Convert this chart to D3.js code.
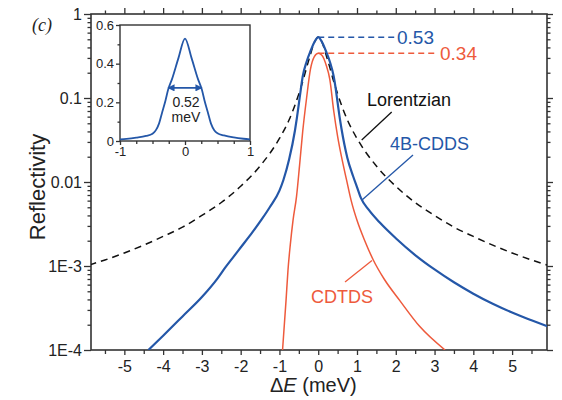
<!DOCTYPE html>
<html><head><meta charset="utf-8">
<script src="https://cdn.jsdelivr.net/npm/d3@7"></script>
<style>
body{margin:0;background:#fff;}
svg{display:block;font-family:"Liberation Sans",Arial,sans-serif;}
</style></head>
<body><svg id="c" width="562" height="400"></svg>
<script>
// ---- data ----
const blueE = [-4.38,-4.0,-3.5,-3.0,-2.6,-2.4,-2.2,-2.0,-1.7,-1.45,-1.25,-1.0,-0.9,-0.75,-0.6,-0.55,-0.5,-0.45,-0.4,-0.3,-0.2,-0.1,0,0.1,0.2,0.3,0.4,0.45,0.5,0.55,0.6,0.75,0.9,1.0,1.1,1.3,1.6,2.0,2.5,3.0,3.5,4.0,4.5,5.0,5.5,5.93];
const blueR = [1e-4,1.48e-4,2.51e-4,4.27e-4,7.08e-4,9.55e-4,1.26e-3,1.66e-3,2.51e-3,3.63e-3,5.0e-3,7.9e-3,0.0105,0.0186,0.041,0.058,0.085,0.126,0.18,0.27,0.36,0.46,0.53,0.46,0.36,0.27,0.18,0.13,0.088,0.06,0.043,0.0195,0.0117,8.7e-3,6.46e-3,4.68e-3,3.24e-3,2.14e-3,1.35e-3,9.1e-4,6.4e-4,4.68e-4,3.55e-4,2.79e-4,2.26e-4,1.9e-4];
const redE = [-0.92,-0.83,-0.78,-0.72,-0.65,-0.56,-0.48,-0.4,-0.3,-0.2,-0.1,0,0.1,0.2,0.3,0.4,0.5,0.6,0.73,0.85,1.0,1.2,1.42,1.7,2.1,2.62,3.27];
const redR = [1e-4,3.9e-4,8.9e-4,1.8e-3,3.5e-3,6.7e-3,0.016,0.04,0.1,0.22,0.31,0.34,0.32,0.25,0.165,0.07,0.035,0.02,0.0106,6e-3,3.5e-3,2e-3,1.18e-3,7e-4,3.9e-4,1.9e-4,1e-4];
const lorE = [-5.9,-5.5,-5,-4.5,-4,-3.5,-3,-2.5,-2,-1.5,-1,-0.75,-0.5,-0.4,-0.3,-0.2,-0.1,0,0.1,0.2,0.3,0.4,0.5,0.75,1,1.5,2,2.5,3,3.5,4,4.5,5,5.5,5.9];
const lorR = [1.03e-3,1.18e-3,1.43e-3,1.77e-3,2.25e-3,2.9e-3,4.0e-3,5.7e-3,8.9e-3,0.0155,0.033,0.055,0.112,0.157,0.23,0.33,0.46,0.53,0.46,0.33,0.23,0.157,0.112,0.055,0.033,0.0155,8.9e-3,5.7e-3,4.0e-3,2.9e-3,2.25e-3,1.77e-3,1.43e-3,1.18e-3,1.03e-3];
const insetE = [-1,-0.9,-0.75,-0.6,-0.5,-0.45,-0.4,-0.35,-0.3,-0.26,-0.2,-0.1,0,0.1,0.2,0.26,0.3,0.35,0.4,0.45,0.5,0.6,0.75,0.9,1];
const insetR = [0.0079,0.0105,0.017,0.0263,0.038,0.055,0.09,0.15,0.21,0.265,0.32,0.43,0.53,0.43,0.32,0.265,0.21,0.15,0.09,0.056,0.04,0.0288,0.0184,0.0117,0.0087];
const xTicks = [-5,-4,-3,-2,-1,0,1,2,3,4,5];
const xMinor = [-5.5,-4.5,-3.5,-2.5,-1.5,-0.5,0.5,1.5,2.5,3.5,4.5,5.5];
const yTicks = [1,0.1,0.01,1e-3,1e-4];
const yTickLabels = ["1","0.1","0.01","1E-3","1E-4"];
const insetXTicks = [-1,0,1];
const insetXMinor = [-0.75,-0.5,-0.25,0.25,0.5,0.75];
const insetYTicks = [0,0.2,0.4,0.6];
const insetYMinor = [0.1,0.3,0.5];
const peakBlue = 0.53, peakRed = 0.34, fwhm = 0.52;

const BLUE = "#2457a8", RED = "#ee5a3c", AX = "#333";
const svg = d3.select("#c");

const x = d3.scaleLinear().domain([-5.86, 5.9]).range([91, 547]);
const y = d3.scaleLog().domain([1e-4, 1]).range([350, 14]);

const yMinor = [];
[1e-4,1e-3,1e-2,1e-1].forEach(d => { for (let k = 2; k <= 9; k++) yMinor.push(d*k); });

function styleAxis(g){ g.select(".domain").remove(); g.selectAll("line").attr("stroke", AX).attr("stroke-width", 1.3); g.selectAll("text").attr("fill","#222"); }

// clip
svg.append("clipPath").attr("id","clip").append("rect").attr("x",91).attr("y",14).attr("width",456).attr("height",336);

// axes
svg.append("g").attr("transform","translate(91,0)")
  .call(d3.axisLeft(y).tickValues(yTicks).tickFormat((d,i)=>yTickLabels[i]).tickSize(7).tickPadding(2))
  .call(styleAxis).selectAll("text").attr("font-size",16);
svg.append("g").attr("transform","translate(91,0)")
  .call(d3.axisLeft(y).tickValues(yMinor).tickFormat("").tickSize(3.5)).call(styleAxis);
svg.append("g").attr("transform","translate(547,0)")
  .call(d3.axisRight(y).tickValues(yTicks).tickFormat("").tickSize(6)).call(styleAxis);
svg.append("g").attr("transform","translate(547,0)")
  .call(d3.axisRight(y).tickValues(yMinor).tickFormat("").tickSize(3.5)).call(styleAxis);
svg.append("g").attr("transform","translate(0,350)")
  .call(d3.axisBottom(x).tickValues(xTicks).tickFormat(d=>String(d)).tickSize(5).tickPadding(6))
  .call(styleAxis).selectAll("text").attr("font-size",16);
svg.append("g").attr("transform","translate(0,350)")
  .call(d3.axisBottom(x).tickValues(xMinor).tickFormat("").tickSize(4)).call(styleAxis);
svg.append("g").attr("transform","translate(0,14)")
  .call(d3.axisTop(x).tickValues(xTicks).tickFormat("").tickSize(6)).call(styleAxis);
svg.append("g").attr("transform","translate(0,14)")
  .call(d3.axisTop(x).tickValues(xMinor).tickFormat("").tickSize(3.5)).call(styleAxis);
svg.append("rect").attr("x",91).attr("y",14).attr("width",456).attr("height",336)
  .attr("fill","none").attr("stroke",AX).attr("stroke-width",1.6);

// curves
const line = d3.line().x(d=>x(d[0])).y(d=>y(d[1])).curve(d3.curveMonotoneX);
const plot = svg.append("g").attr("clip-path","url(#clip)");
plot.append("path").datum(lorE.map((e,i)=>[e,lorR[i]])).attr("d",line)
  .attr("fill","none").attr("stroke","#111").attr("stroke-width",1.5).attr("stroke-dasharray","7,5");
plot.append("path").datum(redE.map((e,i)=>[e,redR[i]])).attr("d",line)
  .attr("fill","none").attr("stroke",RED).attr("stroke-width",1.5);
plot.append("path").datum(blueE.map((e,i)=>[e,blueR[i]])).attr("d",line)
  .attr("fill","none").attr("stroke",BLUE).attr("stroke-width",2.2);

// peak markers
svg.append("line").attr("x1",x(0)).attr("x2",396).attr("y1",y(peakBlue)).attr("y2",y(peakBlue))
  .attr("stroke",BLUE).attr("stroke-width",1.5).attr("stroke-dasharray","6,4");
svg.append("line").attr("x1",x(0)).attr("x2",438).attr("y1",y(peakRed)).attr("y2",y(peakRed))
  .attr("stroke",RED).attr("stroke-width",1.5).attr("stroke-dasharray","6,4");
svg.append("text").attr("x",397).attr("y",y(peakBlue)+7).attr("font-size",19).attr("fill",BLUE).text(peakBlue.toFixed(2));
svg.append("text").attr("x",440).attr("y",y(peakRed)+7).attr("font-size",19).attr("fill",RED).text(peakRed.toFixed(2));

// labels with leaders
svg.append("text").attr("x",367).attr("y",106).attr("font-size",18).attr("fill","#111").text("Lorentzian");
svg.append("line").attr("x1",391.7).attr("y1",112).attr("x2",361.7).attr("y2",140).attr("stroke","#111").attr("stroke-width",1.3);
svg.append("text").attr("x",390).attr("y",150).attr("font-size",18).attr("fill",BLUE).text("4B-CDDS");
svg.append("line").attr("x1",413).attr("y1",155).attr("x2",362).attr("y2",200).attr("stroke",BLUE).attr("stroke-width",1.3);
svg.append("text").attr("x",311).attr("y",303).attr("font-size",18).attr("fill",RED).text("CDTDS");
svg.append("line").attr("x1",345).attr("y1",282).attr("x2",372).attr("y2",260.5).attr("stroke",RED).attr("stroke-width",1.3);

// axis titles
svg.append("text").attr("transform","translate(45,187) rotate(-90)").attr("text-anchor","middle")
  .attr("font-size",22).attr("fill","#222").text("Reflectivity");
const xt = svg.append("text").attr("x",270).attr("y",392).attr("font-size",20).attr("fill","#222");
xt.append("tspan").text("Δ");
xt.append("tspan").attr("font-style","italic").text("E");
xt.append("tspan").text(" (meV)");
svg.append("text").attr("x",32).attr("y",31).attr("font-family","'Liberation Serif','Times New Roman',serif")
  .attr("font-style","italic").attr("font-size",18).attr("fill","#222").text("(c)");

// ---- inset ----
const ix = d3.scaleLinear().domain([-1,1]).range([120,250]);
const iy = d3.scaleLinear().domain([0,0.6]).range([141,25]);
svg.append("rect").attr("x",120).attr("y",25).attr("width",130).attr("height",116).attr("fill","#fff");
svg.append("g").attr("transform","translate(120,0)")
  .call(d3.axisLeft(iy).tickValues(insetYTicks).tickFormat(d=>d===0?"0":d.toFixed(1)).tickSize(4).tickPadding(2))
  .call(styleAxis).selectAll("text").attr("font-size",13);
svg.append("g").attr("transform","translate(120,0)")
  .call(d3.axisLeft(iy).tickValues(insetYMinor).tickFormat("").tickSize(2.5)).call(styleAxis);
svg.append("g").attr("transform","translate(0,141)")
  .call(d3.axisBottom(ix).tickValues(insetXTicks).tickFormat(d=>String(d)).tickSize(4).tickPadding(2))
  .call(styleAxis).selectAll("text").attr("font-size",13);
svg.append("g").attr("transform","translate(0,141)")
  .call(d3.axisBottom(ix).tickValues(insetXMinor).tickFormat("").tickSize(3)).call(styleAxis);
svg.append("rect").attr("x",120).attr("y",25).attr("width",130).attr("height",116)
  .attr("fill","none").attr("stroke",AX).attr("stroke-width",1.4);
const iline = d3.line().x(d=>ix(d[0])).y(d=>iy(d[1])).curve(d3.curveMonotoneX);
svg.append("path").datum(insetE.map((e,i)=>[e,insetR[i]])).attr("d",iline).attr("fill","none").attr("stroke",BLUE).attr("stroke-width",1.8);
// FWHM arrow
const defs = svg.append("defs");
["s","e"].forEach(k=>{
  defs.append("marker").attr("id","ah"+k).attr("viewBox","0 0 10 10").attr("refX",9).attr("refY",5)
    .attr("markerWidth",4).attr("markerHeight",4).attr("orient", k==="e"?"auto":"auto-start-reverse")
    .append("path").attr("d","M0,0L10,5L0,10z").attr("fill",BLUE);
});
const hy = iy(peakBlue/2 + 0.01);
svg.append("line").attr("x1",ix(-fwhm/2)).attr("x2",ix(fwhm/2)).attr("y1",hy).attr("y2",hy)
  .attr("stroke",BLUE).attr("stroke-width",1.8).attr("marker-start","url(#ahs)").attr("marker-end","url(#ahe)");
svg.append("text").attr("x",ix(0)+1).attr("y",106.5).attr("text-anchor","middle").attr("font-size",14).attr("fill","#222").text(fwhm.toFixed(2));
svg.append("text").attr("x",ix(0)+1).attr("y",121.5).attr("text-anchor","middle").attr("font-size",14).attr("fill","#222").text("meV");
</script></body></html>
